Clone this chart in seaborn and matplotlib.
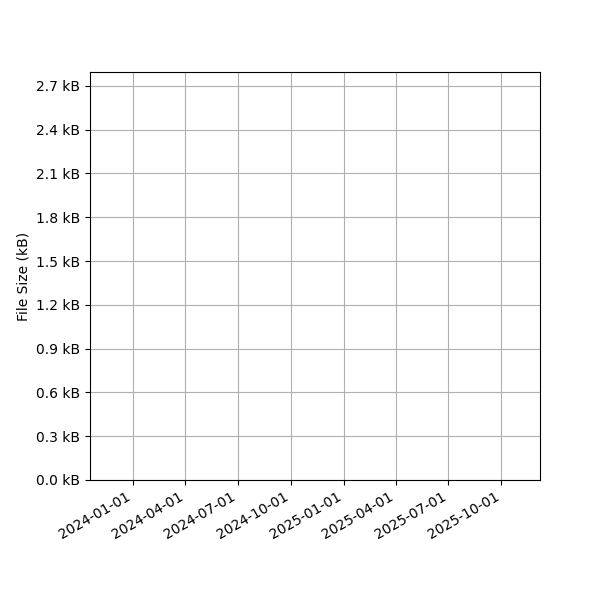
import datetime as dt
import seaborn as sns
import matplotlib
matplotlib.use("Agg")
import matplotlib.pyplot as plt
import matplotlib.dates as mdates
import matplotlib.ticker as ticker

# no file sizes were recorded in the window shown
dates = []
sizes_kb = []

x_start = dt.datetime(2023, 10, 19)
x_end = dt.datetime(2025, 12, 7)
y_max = 2.795
y_ticks = [0.0, 0.3, 0.6, 0.9, 1.2, 1.5, 1.8, 2.1, 2.4, 2.7]

fig, ax = plt.subplots(figsize=(6, 6), dpi=100)

sns.lineplot(x=dates, y=sizes_kb, ax=ax)

ax.xaxis_date()
ax.set_xlim(x_start, x_end)
ax.xaxis.set_major_locator(mdates.MonthLocator(bymonth=[1, 4, 7, 10]))
ax.xaxis.set_major_formatter(mdates.DateFormatter('%Y-%m-%d'))

ax.set_ylim(0, y_max)
ax.set_yticks(y_ticks)
ax.yaxis.set_major_formatter(ticker.FuncFormatter(lambda v, pos: '%.1f kB' % v))

ax.set_xlabel('')
ax.set_ylabel('File Size (kB)')
ax.grid(True)
fig.autofmt_xdate()
fig.subplots_adjust(left=0.15, right=0.9, top=0.88, bottom=0.2)

fig.savefig('out.png', dpi=100)
